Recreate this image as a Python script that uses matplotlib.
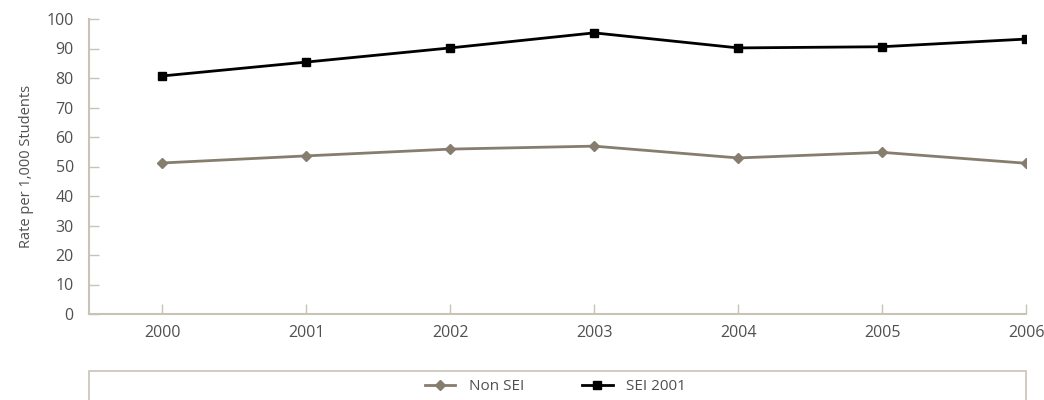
import numpy as np
import matplotlib.pyplot as plt
from matplotlib.patches import Rectangle

years = [2000, 2001, 2002, 2003, 2004, 2005, 2006]
non_sei = [51.2, 53.6, 55.9, 56.9, 52.9, 54.8, 51.1]
sei_2001 = [80.7, 85.4, 90.2, 95.3, 90.2, 90.6, 93.2]
y_ticks = np.arange(0, 101, 10)

AXIS_COLOR = '#c9c2b6'
TEXT_COLOR = '#505050'
NON_SEI_COLOR = '#867d6f'
FONTSIZE = 11.5

plt.rcParams['font.family'] = ['Open Sans', 'DejaVu Sans']

fig = plt.figure(figsize=(10.44, 4), dpi=100)
ax = fig.add_axes([0.0853, 0.215, 0.8975, 0.7375])

ax.plot(years, non_sei, '-D', color=NON_SEI_COLOR, lw=2, markersize=5,
        label='Non SEI')
ax.plot(years, sei_2001, '-s', color='black', lw=2, markersize=5.5,
        label='SEI 2001')

ax.set_xlim(1999.49, 2006)
ax.set_ylim(0, 100)
ax.set_xticks(years)
ax.set_yticks(y_ticks)
ax.tick_params(axis='both', direction='in', length=7, width=1,
               color=AXIS_COLOR, labelcolor=TEXT_COLOR, labelsize=FONTSIZE)
ax.tick_params(axis='x', pad=8)
ax.tick_params(axis='y', pad=11)
for side in ['top', 'right']:
    ax.spines[side].set_visible(False)
for side in ['left', 'bottom']:
    ax.spines[side].set_color(AXIS_COLOR)
    ax.spines[side].set_linewidth(1.5)

ax.set_ylabel('Rate per 1,000 Students', color=TEXT_COLOR, fontsize=10.5,
              labelpad=9)

# legend panel below the plot
fig.patches.append(Rectangle((0.0853, -0.01), 0.8975, 0.0825,
                             transform=fig.transFigure, fill=False,
                             edgecolor=AXIS_COLOR, lw=1.2))
handles, labels = ax.get_legend_handles_labels()
fig.legend(handles, labels, loc='center', bbox_to_anchor=(0.532, 0.034),
           ncol=2, frameon=False, fontsize=11, labelcolor=TEXT_COLOR,
           handlelength=2.0, handletextpad=0.9, columnspacing=3.8)

fig.savefig('out.png', dpi=100)
